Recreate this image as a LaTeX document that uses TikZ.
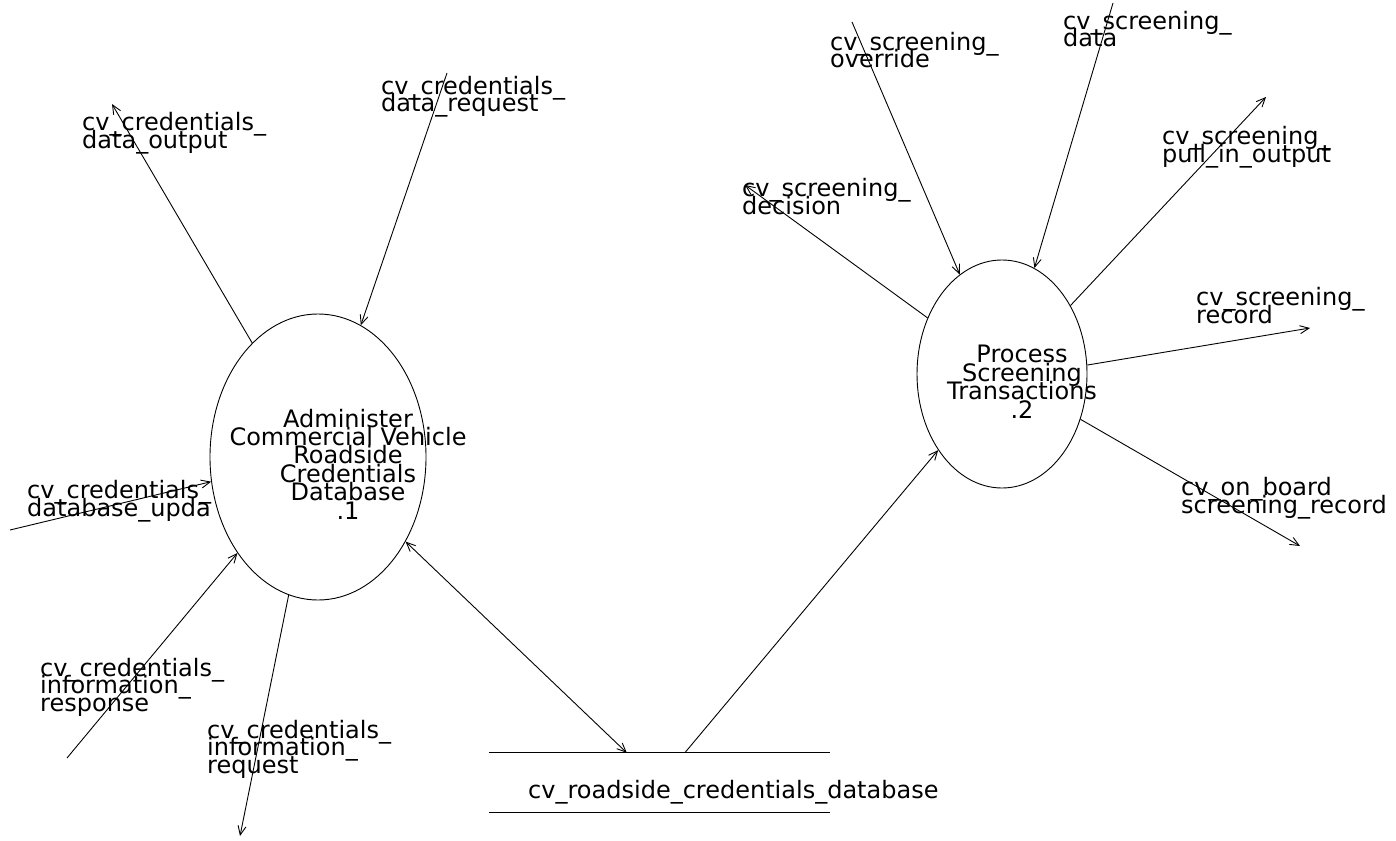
\documentclass[tikz,border=0pt]{standalone}
\usepackage{fontspec}
\setmainfont{DejaVu Sans}
\usetikzlibrary{shapes.geometric,arrows.meta}
\tikzset{
  flow/.style={line width=0.9pt,-{Straight Barb[length=9pt,width=8pt]}},
  bothflow/.style={line width=0.9pt,{Straight Barb[length=9pt,width=8pt]}-{Straight Barb[length=9pt,width=8pt]}},
  plain/.style={line width=0.9pt},
  proc/.style={draw,ellipse,fill=white,line width=0.9pt,inner sep=0pt},
  ptxt/.style={align=center,inner sep=0pt,anchor=base,font={\fontsize{24}{18.4}\selectfont\lineskiplimit=-\maxdimen}},
  flab/.style={align=left,inner sep=0pt,anchor=base west,font={\fontsize{24}{17.5}\selectfont\lineskiplimit=-\maxdimen}},
}

\begin{document}
\begin{tikzpicture}[x=1pt,y=-1pt]
  \useasboundingbox (0,0) rectangle (1396,840);
  \node[flab] (lOut) at (82,148) {cv\_credentials\_\\data\_output};
  \node[flab] (lReq) at (381,112) {cv\_credentials\_\\data\_request};
  \node[flab] (lUpd) at (27,516) {cv\_credentials\_\\database\_upda};
  \node[flab] (lResp) at (40,711) {cv\_credentials\_\\information\_\\response};
  \node[flab] (lInf) at (207,773) {cv\_credentials\_\\information\_\\request};
  \node[flab] (lOvr) at (830,68) {cv\_screening\_\\override};
  \node[flab] (lDat) at (1063,47) {cv\_screening\_\\data};
  \node[flab] (lDec) at (742,214) {cv\_screening\_\\decision};
  \node[flab] (lPull) at (1162,162) {cv\_screening\_\\pull\_in\_output};
  \node[flab] (lRec) at (1196,323) {cv\_screening\_\\record};
  \node[flab] (lBrd) at (1181,513) {cv\_on\_board\\screening\_record};
  \node[proc,minimum width=216pt,minimum height=286pt] (p1) at (318,457) {};
  \node[proc,minimum width=170pt,minimum height=228pt] (p2) at (1002,374) {};
  \node[ptxt] (p1t) at (348,519) {Administer\\Commercial Vehicle\\Roadside\\Credentials\\Database\\.1};
  \node[ptxt] (p2t) at (1022,418) {Process\\Screening\\Transactions\\.2};
  \node[minimum width=341pt,minimum height=59pt,inner sep=0pt] (store) at (659.5,782.5) {};
  \draw[plain] (store.north west) -- (store.north east);
  \draw[plain] (store.south west) -- (store.south east);
  \node[flab] (storeT) at (528,798) {cv\_roadside\_credentials\_database};
  \coordinate (oOut) at (112,104);
  \coordinate (iReq) at (447,73);
  \coordinate (iUpd) at (10,530);
  \coordinate (iResp) at (67,758);
  \coordinate (oInf) at (240,836);
  \coordinate (oDec) at (745,185);
  \coordinate (iOvr) at (852,22);
  \coordinate (iDat) at (1113,3);
  \coordinate (oPull) at (1266,97);
  \coordinate (oRec) at (1310,328);
  \coordinate (oBrd) at (1300,546);
  \draw[flow] (p1.120.8) -- (oOut);
  \draw[flow] (iReq) -- (p1.72.3);
  \draw[flow] (iUpd) -- (p1.193);
  \draw[flow] (iResp) -- (p1.230.8);
  \draw[flow] (p1.258.7) -- (oInf);
  \draw[bothflow] (p1.316.3) -- ([xshift=138pt]store.north west);
  \draw[flow] ([xshift=196pt]store.north west) -- (p2.230.8);
  \draw[flow] (p2.143.3) -- (oDec);
  \draw[flow] (iOvr) -- (p2.113);
  \draw[flow] (iDat) -- (p2.73.2);
  \draw[flow] (p2.45.8) -- (oPull);
  \draw[flow] (p2.6.7) -- (oRec);
  \draw[flow] (p2.330.5) -- (oBrd);
\end{tikzpicture}
\end{document}
